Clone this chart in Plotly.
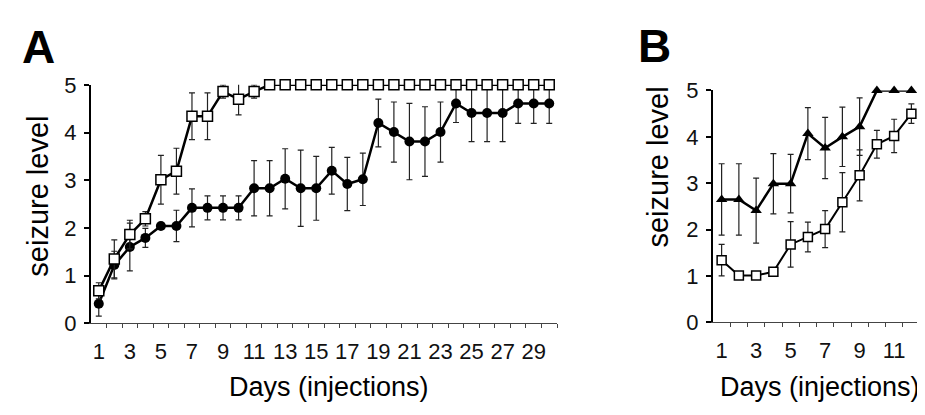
import plotly.graph_objects as go

# ---------------- data ----------------
days_a = [1, 2, 3, 4, 5, 6, 7, 8, 9, 10, 11, 12, 13, 14, 15,
          16, 17, 18, 19, 20, 21, 22, 23, 24, 25, 26, 27, 28, 29, 30]
a_circle = [0.41, 1.22, 1.60, 1.79, 2.04, 2.04, 2.42, 2.42, 2.42, 2.42,
            2.83, 2.83, 3.03, 2.83, 2.83, 3.20, 2.92, 3.02, 4.20, 4.01,
            3.81, 3.81, 4.01, 4.61, 4.41, 4.41, 4.41, 4.61, 4.61, 4.61]
a_circle_err = [0.26, 0.29, 0.50, 0.20, 0.05, 0.33, 0.40, 0.25, 0.25, 0.25,
                0.58, 0.58, 0.63, 0.80, 0.67, 0.49, 0.56, 0.55, 0.50, 0.63,
                0.80, 0.73, 0.63, 0.40, 0.60, 0.60, 0.60, 0.42, 0.42, 0.42]
a_square = [0.68, 1.35, 1.86, 2.19, 3.01, 3.19, 4.34, 4.34, 4.86, 4.70,
            4.86, 5.00, 5.00, 5.00, 5.00, 5.00, 5.00, 5.00, 5.00, 5.00,
            5.00, 5.00, 5.00, 5.00, 5.00, 5.00, 5.00, 5.00, 5.00, 5.00]
a_square_err = [0.17, 0.40, 0.30, 0.15, 0.51, 0.48, 0.49, 0.49, 0.14, 0.33,
                0.14, 0, 0, 0, 0, 0, 0, 0, 0, 0,
                0, 0, 0, 0, 0, 0, 0, 0, 0, 0]

days_b = [1, 2, 3, 4, 5, 6, 7, 8, 9, 10, 11, 12]
b_triangle = [2.65, 2.65, 2.41, 2.99, 2.99, 4.07, 3.76, 4.00, 4.22, 5.00, 5.00, 5.00]
b_triangle_err = [0.77, 0.77, 0.70, 0.65, 0.63, 0.56, 0.66, 0.64, 0.62, 0, 0, 0]
b_square = [1.34, 1.01, 1.01, 1.09, 1.68, 1.84, 2.01, 2.59, 3.17, 3.84, 4.02, 4.50]
b_square_err = [0.34, 0, 0, 0, 0.49, 0.32, 0.40, 0.64, 0.55, 0.30, 0.36, 0.21]

xtick_vals_a = [1, 3, 5, 7, 9, 11, 13, 15, 17, 19, 21, 23, 25, 27, 29]
xtick_text_a = ["1", "3", "5", "7", "9", "11", "13", "15", "17", "19",
                "21", "23", "25", "27", "29"]
xtick_vals_b = [1, 3, 5, 7, 9, 11]
xtick_text_b = ["1", "3", "5", "7", "9", "11"]
ytick_vals = [0, 1, 2, 3, 4, 5]
ytick_text = ["0", "1", "2", "3", "4", "5"]

panel_labels = ["A", "B"]
y_title = "seizure level"
x_title = "Days (injections)"

# ---------------- style ----------------
FONT = "Arial, 'Liberation Sans', Helvetica, sans-serif"
LINE_W = 2.5
ERR = dict(type="data", thickness=1.2, width=3, color="#222")


def err(arr):
    d = dict(ERR)
    d["array"] = arr
    return d


fig = go.Figure()

# Panel A
fig.add_trace(go.Scatter(
    x=days_a, y=a_circle, mode="lines+markers", xaxis="x", yaxis="y",
    line=dict(color="black", width=LINE_W),
    marker=dict(symbol="circle", size=10, color="black"),
    error_y=err(a_circle_err), cliponaxis=False, showlegend=False))
fig.add_trace(go.Scatter(
    x=days_a, y=a_square, mode="lines+markers", xaxis="x", yaxis="y",
    line=dict(color="black", width=LINE_W),
    marker=dict(symbol="square", size=10, color="white",
                line=dict(color="black", width=1.5)),
    error_y=err(a_square_err), cliponaxis=False, showlegend=False))

# Panel B
fig.add_trace(go.Scatter(
    x=days_b, y=b_triangle, mode="lines+markers", xaxis="x2", yaxis="y2",
    line=dict(color="black", width=LINE_W),
    marker=dict(symbol="triangle-up", size=10, color="black"),
    error_y=err(b_triangle_err), cliponaxis=False, showlegend=False))
fig.add_trace(go.Scatter(
    x=days_b, y=b_square, mode="lines+markers", xaxis="x2", yaxis="y2",
    line=dict(color="black", width=2),
    marker=dict(symbol="square", size=9, color="white",
                line=dict(color="black", width=1.5)),
    error_y=err(b_square_err), cliponaxis=False, showlegend=False))

W, H = 925, 415


def px_x(p):
    return p / W


def px_y(p):
    return 1 - p / H


xaxis_common = dict(
    showgrid=False, zeroline=False, showline=True, linecolor="#444",
    linewidth=1.2, ticks="", tickfont=dict(family=FONT, size=22, color="#111"),
    ticklabelstandoff=8, tickmode="array",
)
yaxis_common = dict(
    showgrid=False, zeroline=False, showline=True, linecolor="black",
    linewidth=2.2, ticks="outside", ticklen=5, tickwidth=1.5, tickcolor="black",
    tickfont=dict(family=FONT, size=22, color="#111"), tickmode="array",
    tickvals=ytick_vals, ticktext=ytick_text, range=[0, 5],
    ticklabelstandoff=3,
)

fig.update_layout(
    width=W, height=H,
    margin=dict(l=0, r=0, t=0, b=0),
    paper_bgcolor="white", plot_bgcolor="white",
    font=dict(family=FONT, color="black"),
    xaxis=dict(xaxis_common, domain=[px_x(83), px_x(549)], range=[0.5, 30.5],
               tickvals=xtick_vals_a, ticktext=xtick_text_a, anchor="y",
               minor=dict(tickvals=[i + 0.5 for i in days_a], ticks="outside",
                          ticklen=4, tickcolor="#444", tickwidth=1)),
    yaxis=dict(yaxis_common, domain=[px_y(322.7), px_y(69)], anchor="x"),
    xaxis2=dict(xaxis_common, domain=[px_x(705), px_x(912)], range=[0.5, 12.5],
                tickvals=xtick_vals_b, ticktext=xtick_text_b, anchor="y2",
                minor=dict(tickvals=[i + 0.5 for i in days_b], ticks="outside",
                           ticklen=4, tickcolor="#444", tickwidth=1)),
    yaxis2=dict(yaxis_common, domain=[px_y(321.7), px_y(75)], anchor="x2"),
)

annotations = [
    dict(text="<b>%s</b>" % panel_labels[0], x=px_x(30), y=px_y(29), font=dict(size=46)),
    dict(text="<b>%s</b>" % panel_labels[1], x=px_x(646), y=px_y(28), font=dict(size=46)),
    dict(text=y_title, x=px_x(30), y=px_y(188), textangle=-90, font=dict(size=29)),
    dict(text=y_title, x=px_x(650), y=px_y(157), textangle=-90, font=dict(size=29)),
    dict(text=x_title, x=px_x(321), y=px_y(391), font=dict(size=27)),
    dict(text=x_title, x=px_x(812), y=px_y(391), font=dict(size=27)),
]
for a in annotations:
    a.update(xref="paper", yref="paper", showarrow=False,
             xanchor="center", yanchor="middle")
    a["font"].update(family=FONT, color="black")
fig.update_layout(annotations=annotations)

fig.write_html("out.html")
